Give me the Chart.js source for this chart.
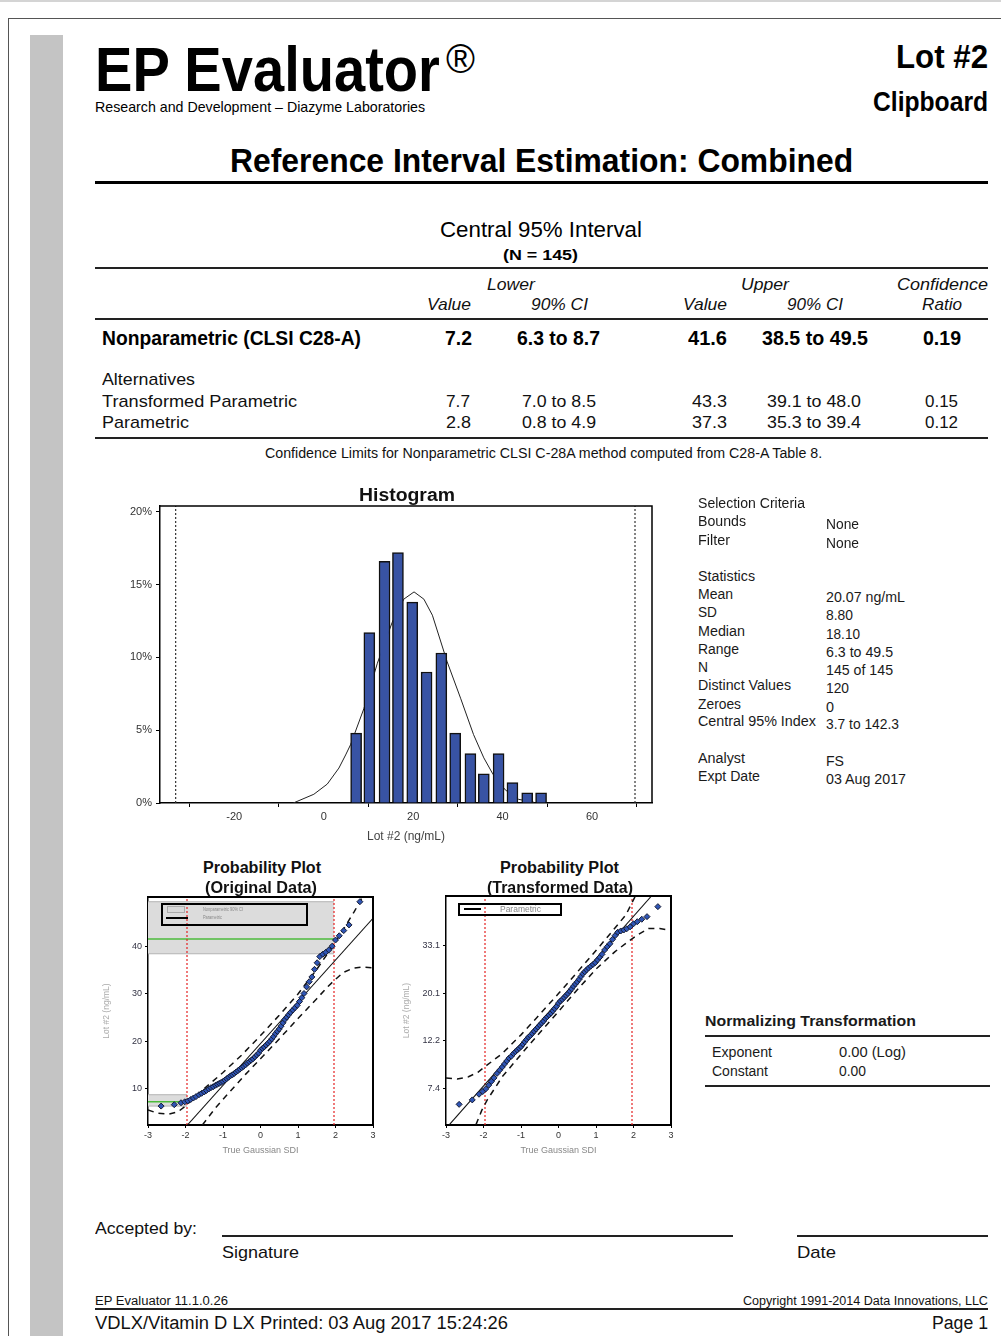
<!DOCTYPE html>
<html>
<head>
<meta charset="utf-8">
<script src="https://cdn.jsdelivr.net/npm/chart.js@4.4.0/dist/chart.umd.min.js"></script>
<style>
  html, body { margin: 0; padding: 0; background: #fff; }
  #page { position: relative; width: 1001px; height: 1336px; overflow: hidden; font-family: "Liberation Sans", Arial, sans-serif; color: #111; }
  .t { position: absolute; white-space: nowrap; line-height: 1; transform-origin: 0 0; }
  .b { font-weight: bold; }
  .i { font-style: italic; }
  .ln { position: absolute; }
  canvas { position: absolute; }
</style>
</head>
<body>
<div id="page">
  <canvas id="hist" width="570" height="350" style="left:100px;top:500px"></canvas>
  <canvas id="prob1" width="295" height="275" style="left:90px;top:890px"></canvas>
  <canvas id="prob2" width="295" height="275" style="left:390px;top:890px"></canvas>
</div>
<script>
// histogram: bin centres (ng/mL) and percent of results
const histCenters = [7.25, 10.2, 13.6, 16.6, 19.8, 23.0, 26.3, 29.4, 32.8, 35.8, 39.1, 42.2, 45.5, 48.6];
const histPercents = [4.8, 11.7, 16.6, 17.2, 13.8, 9.0, 10.3, 4.8, 3.4, 2.0, 3.4, 1.4, 0.7, 0.7];
// fitted curve
const curveX = [-6.8, -2.2, 0.8, 3.4, 4.9, 6.0, 9.0, 12.0, 15.3, 17.9, 20.2, 22.4, 24.3, 27.6, 30.6, 33.5, 35.8, 37.8, 40.6, 43.6, 47.0];
const curveY = [0.0, 0.6, 1.3, 2.4, 3.3, 4.0, 6.5, 9.6, 12.4, 14.0, 14.5, 14.0, 12.9, 9.7, 7.2, 4.7, 3.1, 2.0, 0.9, 0.25, 0.05];
const histLimits = [-33.1, 69.6];
const histTicks = [-20, 0, 20, 40, 60];
const pctTicks = [0, 5, 10, 15, 20];

// probability plots: gaussian SDI and result (ng/mL)
const probZ = [-2.65, -2.30, -2.12, -2.02, -1.94, -1.86, -1.79, -1.72, -1.64, -1.57, -1.50, -1.44, -1.38, -1.32, -1.26,
  -1.20, -1.15, -1.10, -1.05, -1.00, -0.95, -0.90, -0.85, -0.80, -0.75, -0.70, -0.65, -0.60, -0.55, -0.50,
  -0.45, -0.40, -0.35, -0.30, -0.25, -0.20, -0.15, -0.10, -0.05, 0.00, 0.05, 0.10, 0.15, 0.20, 0.25,
  0.30, 0.35, 0.40, 0.45, 0.50, 0.55, 0.60, 0.65, 0.70, 0.75, 0.80, 0.86, 0.92, 0.98, 1.04,
  1.10, 1.16, 1.23, 1.30, 1.37, 1.44, 1.51, 1.58, 1.66, 1.74, 1.82, 1.91, 2.00, 2.10, 2.22, 2.36, 2.65];
const probValues = [6.3, 6.6, 7.0, 7.2, 7.4, 7.7, 8.0, 8.3, 8.7, 9.0, 9.3, 9.6, 9.9, 10.2, 10.4,
  10.7, 10.9, 11.1, 11.3, 11.5, 11.8, 12.1, 12.4, 12.7, 12.9, 13.2, 13.5, 13.8, 14.1, 14.4,
  14.7, 15.0, 15.4, 15.7, 16.0, 16.3, 16.7, 17.1, 17.5, 18.1, 18.5, 18.8, 19.2, 19.6, 20.0,
  20.5, 21.0, 21.6, 22.1, 22.6, 23.2, 23.9, 24.6, 25.1, 25.6, 26.1, 26.6, 27.1, 27.6, 28.4,
  29.2, 30.1, 31.5, 32.6, 33.6, 35.2, 36.6, 37.9, 38.4, 38.8, 39.3, 40.1, 41.4, 42.3, 43.4, 44.6, 49.5];
const zLimits = [-1.96, 1.96];
const zTicks = [-3, -2, -1, 0, 1, 2, 3];

// original data plot
const origTicks = [10, 20, 30, 40];
const paramZ = [-1.95, 3.0];
const paramV = [2.3, 46.0];
const upperBandZ = [-3.0, -2.75, -2.45, -2.2, -2.0, -1.8, -1.5, -1.0, -0.5, 0, 0.5, 1.0, 1.5, 2.0, 2.5, 2.72];
const upperBandV = [5.5, 4.8, 4.6, 5.1, 6.3, 7.8, 10.0, 13.4, 17.1, 21.2, 25.5, 30.0, 35.2, 41.0, 47.4, 50.5];
const lowerBandZ = [-1.55, -1.2, -0.8, -0.4, 0, 0.5, 1.0, 1.5, 1.8, 2.0, 2.2, 2.45, 2.7, 3.0];
const lowerBandV = [2.3, 5.9, 9.5, 13.0, 16.3, 20.5, 24.8, 29.0, 31.6, 33.1, 34.5, 35.4, 35.7, 35.5];
const lowerCI = [6.3, 8.7];
const upperCI = [38.5, 49.5];
const refLimits = [7.2, 41.6];

// transformed data plot (log axis)
const transTicks = [7.4, 12.2, 20.1, 33.1];
const tParamZ = [-2.91, 2.48];
const tParamV = [5.1, 55.3];
const tUpperZ = [-3.0, -2.7, -2.4, -2.15, -1.9, -1.5, -1.0, -0.5, 0, 0.5, 1.0, 1.5, 1.8, 2.05];
const tUpperV = [8.3, 8.2, 8.4, 8.8, 9.5, 10.7, 13.0, 16.1, 20.0, 25.0, 31.3, 39.5, 45.5, 55.3];
const tLowerZ = [-2.2, -2.05, -1.9, -1.5, -1.0, -0.5, 0, 0.5, 1.0, 1.5, 1.8, 2.1, 2.4, 2.7, 3.0];
const tLowerV = [5.1, 5.9, 6.6, 8.4, 10.6, 13.3, 16.6, 20.8, 25.8, 30.9, 33.8, 36.8, 39.4, 39.4, 38.5];

const page = document.getElementById('page');

function T(txt, x, cy, w, fs, cls, color) {
  const d = document.createElement('div');
  d.className = 't' + (cls ? ' ' + cls : '');
  d.textContent = txt;
  d.style.left = x + 'px';
  d.style.top = (cy - fs * 0.5) + 'px';
  d.style.fontSize = fs + 'px';
  if (color) d.style.color = color;
  page.appendChild(d);
  if (w) {
    const aw = d.getBoundingClientRect().width;
    if (aw > 0) d.style.transform = 'scaleX(' + (w / aw).toFixed(3) + ')';
  }
  return d;
}
function L(x, y, w, h, color) {
  const d = document.createElement('div');
  d.className = 'ln';
  d.style.cssText = 'left:' + x + 'px;top:' + y + 'px;width:' + w + 'px;height:' + h + 'px;background:' + (color || '#111');
  page.appendChild(d);
  return d;
}
function Box(x, y, w, h, css) {
  const d = document.createElement('div');
  d.style.cssText = 'position:absolute;box-sizing:border-box;left:' + x + 'px;top:' + y + 'px;width:' + w + 'px;height:' + h + 'px;' + css;
  page.appendChild(d);
  return d;
}

// page frame
L(0, 0, 1001, 2, '#d4d4d4');
L(8, 18, 993, 1, '#555');
L(8, 18, 1, 1318, '#555');
L(30, 35, 33, 1301, '#c4c4c4');

// header
T('EP Evaluator', 95, 69.5, 345, 63, 'b', '#000');
T('\u00AE', 446, 59, 29, 40, '', '#000');
T('Research and Development \u2013 Diazyme Laboratories', 95, 106, 330, 15, '', '#000');
T('Lot #2', 896, 56, 92, 34, 'b', '#000');
T('Clipboard', 873, 102, 115, 27, 'b', '#000');
T('Reference Interval Estimation: Combined', 230, 160, 623, 34, 'b', '#000');
L(95, 181, 893, 3, '#000');

// interval table
T('Central 95% Interval', 440, 230, 202, 22, '', '#000');
T('(N = 145)', 503, 254, 75, 15, 'b', '#000');
L(95, 267, 893, 2, '#222');
T('Lower', 487, 284, 48, 17, 'i');
T('Upper', 741, 284, 48, 17, 'i');
T('Confidence', 897, 284, 91, 17, 'i');
T('Value', 427, 304, 44, 17, 'i');
T('90% CI', 531, 304, 57, 17, 'i');
T('Value', 683, 304, 44, 17, 'i');
T('90% CI', 787, 304, 56, 17, 'i');
T('Ratio', 922, 304, 40, 17, 'i');
L(95, 318, 893, 2, '#222');
T('Nonparametric (CLSI C28-A)', 102, 337, 259, 21, 'b', '#000');
T('7.2', 445, 337, 27, 21, 'b', '#000');
T('6.3 to 8.7', 517, 337, 83, 21, 'b', '#000');
T('41.6', 688, 337, 39, 21, 'b', '#000');
T('38.5 to 49.5', 762, 337, 106, 21, 'b', '#000');
T('0.19', 923, 337, 38, 21, 'b', '#000');
T('Alternatives', 102, 379, 93, 17);
T('Transformed Parametric', 102, 401, 195, 17);
T('7.7', 446, 401, 24, 17);
T('7.0 to 8.5', 522, 401, 74, 17);
T('43.3', 692, 401, 35, 17);
T('39.1 to 48.0', 767, 401, 94, 17);
T('0.15', 925, 401, 33, 17);
T('Parametric', 102, 422, 87, 17);
T('2.8', 446, 422, 25, 17);
T('0.8 to 4.9', 522, 422, 74, 17);
T('37.3', 692, 422, 35, 17);
T('35.3 to 39.4', 767, 422, 94, 17);
T('0.12', 925, 422, 33, 17);
L(95, 437, 893, 2, '#222');
T('Confidence Limits for Nonparametric CLSI C-28A method computed from C28-A Table 8.', 265, 453, 557, 14);

// histogram title
T('Histogram', 359, 495, 96, 18, 'b', '#111');

// statistics panel
const statRows = [
  ['Selection Criteria', '', 503, 107],
  ['Bounds', 'None', 521, 48],
  ['Filter', 'None', 540, 32],
  ['Statistics', '', 576, 57],
  ['Mean', '20.07 ng/mL', 594, 35],
  ['SD', '8.80', 612, 19],
  ['Median', '18.10', 631, 47],
  ['Range', '6.3 to 49.5', 649, 41],
  ['N', '145 of 145', 667, 10],
  ['Distinct Values', '120', 685, 93],
  ['Zeroes', '0', 704, 43],
  ['Central 95% Index', '3.7 to 142.3', 721, 118],
  ['Analyst', 'FS', 758, 47],
  ['Expt Date', '03 Aug 2017', 776, 62]
];
const statValueW = { 'None': 33, '20.07 ng/mL': 79, '8.80': 27, '18.10': 34, '6.3 to 49.5': 67, '145 of 145': 67,
  '120': 23, '0': 8, '3.7 to 142.3': 73, 'FS': 18, '03 Aug 2017': 80 };
statRows.forEach(r => {
  T(r[0], 698, r[2], r[3], 14, '', '#1a1a1a');
  if (r[1]) T(r[1], 826, r[2] + 3, statValueW[r[1]], 14, '', '#1a1a1a');
});

// normalizing transformation
T('Normalizing Transformation', 705, 1020, 211, 15, 'b', '#1a1a1a');
L(705, 1035, 285, 2, '#222');
T('Exponent', 712, 1052, 60, 14, '', '#1a1a1a');
T('0.00  (Log)', 839, 1052, 67, 14, '', '#1a1a1a');
T('Constant', 712, 1071, 56, 14, '', '#1a1a1a');
T('0.00', 839, 1071, 27, 14, '', '#1a1a1a');
L(705, 1085, 285, 2, '#222');

// probability plot titles
T('Probability Plot', 203, 868, 118, 16, 'b', '#111');
T('(Original Data)', 205, 888, 112, 16, 'b', '#111');
T('Probability Plot', 500, 868, 119, 16, 'b', '#111');
T('(Transformed Data)', 487, 888, 146, 16, 'b', '#111');

// legends inside probability plots
Box(161, 903, 147, 23, 'border:2px solid #000;');
Box(167, 906, 18, 7, 'background:#d9d9d9;border:1px solid #aaa;');
L(166, 917, 22, 2, '#000');
T('Nonparametric 90% CI', 203, 909.5, 40, 5.5, '', '#888');
T('Parametric', 203, 918, 19, 5.5, '', '#888');
Box(458, 903, 104, 13, 'border:2px solid #000;');
L(464, 908, 17, 2, '#000');
T('Parametric', 500, 909.5, 41, 9, '', '#888');

// signature + footer
T('Accepted by:', 95, 1228, 102, 17);
L(222, 1235, 511, 2, '#222');
L(797, 1235, 191, 2, '#222');
T('Signature', 222, 1252, 77, 17);
T('Date', 797, 1252, 39, 17);
T('EP Evaluator  11.1.0.26', 95, 1301, 133, 12);
T('Copyright 1991-2014 Data Innovations, LLC', 743, 1301, 245, 12);
L(95, 1308, 893, 2, '#222');
T('VDLX/Vitamin D LX Printed:  03 Aug 2017  15:24:26', 95, 1323, 413, 18);
T('Page 1', 932, 1323, 56, 18);

// ---------- charts ----------
const FONT = 'Liberation Sans';
const pts = (xs, ys) => xs.map((x, i) => ({ x: x, y: ys[i] }));

const framePlugin = {
  id: 'frame',
  afterDatasetsDraw(chart, args, opts) {
    const { ctx, chartArea: a } = chart;
    ctx.save();
    ctx.strokeStyle = '#000';
    ctx.lineWidth = opts.width || 1.5;
    ctx.beginPath();
    ctx.moveTo(a.left, a.top);
    ctx.lineTo(a.right, a.top);
    ctx.lineTo(a.right, a.bottom);
    ctx.stroke();
    ctx.restore();
  }
};

function fixY(w) {
  return s => { s.width = w; s.paddingTop = 0; s.paddingBottom = 0; };
}
function fixX(h) {
  return s => { s.height = h; s.paddingLeft = 0; s.paddingRight = 0; };
}

// histogram
new Chart(document.getElementById('hist'), {
  type: 'bar',
  data: {
    datasets: [
      {
        type: 'line', data: pts(curveX, curveY), borderColor: '#222', borderWidth: 1,
        pointRadius: 0, tension: 0, order: 3
      },
      {
        type: 'bar', data: pts(histCenters, histPercents), backgroundColor: '#3853a4',
        borderColor: '#111', borderWidth: 1.5, barThickness: 11, order: 2
      },
      {
        type: 'line', data: [{ x: histLimits[0], y: 0 }, { x: histLimits[0], y: 20.4 }],
        borderColor: '#333', borderWidth: 1.2, borderDash: [2, 2], pointRadius: 0, order: 1
      },
      {
        type: 'line', data: [{ x: histLimits[1], y: 0 }, { x: histLimits[1], y: 20.4 }],
        borderColor: '#333', borderWidth: 1.2, borderDash: [2, 2], pointRadius: 0, order: 1
      }
    ]
  },
  options: {
    responsive: false,
    animation: false,
    layout: { padding: { top: 6, right: 18, left: 0, bottom: 0 } },
    plugins: { legend: { display: false }, tooltip: { enabled: false }, frame: { width: 1.5 } },
    scales: {
      x: {
        type: 'linear', min: -36.6, max: 73.4, offset: false,
        afterBuildTicks: s => { s.ticks = histTicks.map(v => ({ value: v })); },
        afterFit: fixX(47),
        grid: { drawOnChartArea: false, tickLength: 4, color: '#000' },
        border: { color: '#000', width: 1.5 },
        ticks: { color: '#333', font: { family: FONT, size: 11 }, padding: 3, maxRotation: 0 },
        title: { display: true, text: 'Lot #2 (ng/mL)', color: '#444', font: { family: FONT, size: 12 }, padding: { top: 0, bottom: 6 } }
      },
      y: {
        type: 'linear', min: 0, max: 20.4,
        afterBuildTicks: s => { s.ticks = pctTicks.map(v => ({ value: v })); },
        afterFit: fixY(60),
        grid: { drawOnChartArea: false, tickLength: 4, color: '#000' },
        border: { color: '#000', width: 1.5, dash: [5, 3] },
        ticks: { color: '#333', font: { family: FONT, size: 11 }, padding: 4, callback: v => v + '%' }
      }
    }
  },
  plugins: [framePlugin]
});

function probScales(yOpts, yW) {
  return {
    x: Object.assign({
      type: 'linear', min: -3, max: 3,
      afterBuildTicks: s => { s.ticks = zTicks.map(v => ({ value: v })); },
      afterFit: fixX(40),
      grid: { drawOnChartArea: false, tickLength: 3, color: '#000' },
      border: { color: '#000', width: 2 },
      ticks: { color: '#333', font: { family: FONT, size: 9 }, padding: 2, maxRotation: 0 },
      title: { display: true, text: 'True Gaussian SDI', color: '#888', font: { family: FONT, size: 9 }, padding: { top: 0, bottom: 9 } }
    }),
    y: Object.assign({
      afterFit: fixY(yW),
      grid: { drawOnChartArea: false, tickLength: 3, color: '#000' },
      border: { color: '#000', width: 1.5, dash: [5, 3] },
      ticks: { color: '#334', font: { family: FONT, size: 9 }, padding: 3 },
      title: { display: true, text: 'Lot #2 (ng/mL)', color: '#aaa', font: { family: FONT, size: 8.5 }, padding: { top: 12, bottom: 0 } }
    }, yOpts)
  };
}

const lineDs = (data, color, width, dash, order, extra) => Object.assign({
  data: data, showLine: true, borderColor: color, borderWidth: width, borderDash: dash || [],
  pointRadius: 0, tension: 0, fill: false, order: order
}, extra || {});

const scatterDs = order => ({
  data: pts(probZ, probValues), showLine: false, pointStyle: 'rectRot', pointRadius: 3,
  backgroundColor: '#2f55b5', borderColor: '#141b33', borderWidth: 1, order: order
});

// probability plot, original data
const y1min = 2.3, y1max = 50.5;
new Chart(document.getElementById('prob1'), {
  type: 'scatter',
  data: {
    datasets: [
      lineDs([{ x: -3, y: lowerCI[1] }, { x: zLimits[0], y: lowerCI[1] }], '#b4b4b4', 1, null, 9),
      lineDs([{ x: -3, y: lowerCI[0] }, { x: zLimits[0], y: lowerCI[0] }], '#b4b4b4', 1, null, 9, { fill: '-1', backgroundColor: '#dcdcdc' }),
      lineDs([{ x: -3, y: upperCI[1] }, { x: zLimits[1], y: upperCI[1] }], '#b4b4b4', 1, null, 9),
      lineDs([{ x: -3, y: upperCI[0] }, { x: zLimits[1], y: upperCI[0] }], '#b4b4b4', 1, null, 9, { fill: '-1', backgroundColor: '#dcdcdc' }),
      lineDs([{ x: -3, y: refLimits[0] }, { x: zLimits[0], y: refLimits[0] }], '#4cbb3c', 1.5, null, 8),
      lineDs([{ x: -3, y: refLimits[1] }, { x: zLimits[1], y: refLimits[1] }], '#4cbb3c', 1.5, null, 8),
      lineDs([{ x: zLimits[0], y: y1min }, { x: zLimits[0], y: y1max }], '#e52222', 1.2, [2, 2], 7),
      lineDs([{ x: zLimits[1], y: y1min }, { x: zLimits[1], y: y1max }], '#e52222', 1.2, [2, 2], 7),
      lineDs(pts(upperBandZ, upperBandV), '#111', 1.5, [6, 5], 5),
      lineDs(pts(lowerBandZ, lowerBandV), '#111', 1.5, [6, 5], 5),
      lineDs(pts(paramZ, paramV), '#111', 1.1, null, 4),
      scatterDs(1)
    ]
  },
  options: {
    responsive: false,
    animation: false,
    layout: { padding: { top: 7, right: 12, left: 0, bottom: 0 } },
    plugins: { legend: { display: false }, tooltip: { enabled: false }, frame: { width: 2 } },
    scales: probScales({
      type: 'linear', min: y1min, max: y1max,
      afterBuildTicks: s => { s.ticks = origTicks.map(v => ({ value: v })); }
    }, 58)
  },
  plugins: [framePlugin]
});

// probability plot, transformed data
const y2min = 5.08, y2max = 55.3;
new Chart(document.getElementById('prob2'), {
  type: 'scatter',
  data: {
    datasets: [
      lineDs([{ x: zLimits[0], y: y2min }, { x: zLimits[0], y: y2max }], '#e52222', 1.2, [2, 2], 7),
      lineDs([{ x: zLimits[1], y: y2min }, { x: zLimits[1], y: y2max }], '#e52222', 1.2, [2, 2], 7),
      lineDs(pts(tUpperZ, tUpperV), '#111', 1.5, [6, 5], 5),
      lineDs(pts(tLowerZ, tLowerV), '#111', 1.5, [6, 5], 5),
      lineDs(pts(tParamZ, tParamV), '#111', 1.1, null, 4),
      scatterDs(1)
    ]
  },
  options: {
    responsive: false,
    animation: false,
    layout: { padding: { top: 6, right: 14, left: 0, bottom: 0 } },
    plugins: { legend: { display: false }, tooltip: { enabled: false }, frame: { width: 2 } },
    scales: probScales({
      type: 'logarithmic', min: y2min, max: y2max,
      afterBuildTicks: s => { s.ticks = transTicks.map(v => ({ value: v })); }
    }, 56)
  },
  plugins: [framePlugin]
});
// log axis needs its own label formatter
Chart.getChart('prob2').options.scales.y.ticks.callback = v => Number(v).toFixed(1);
Chart.getChart('prob2').update('none');
</script>
</body>
</html>
